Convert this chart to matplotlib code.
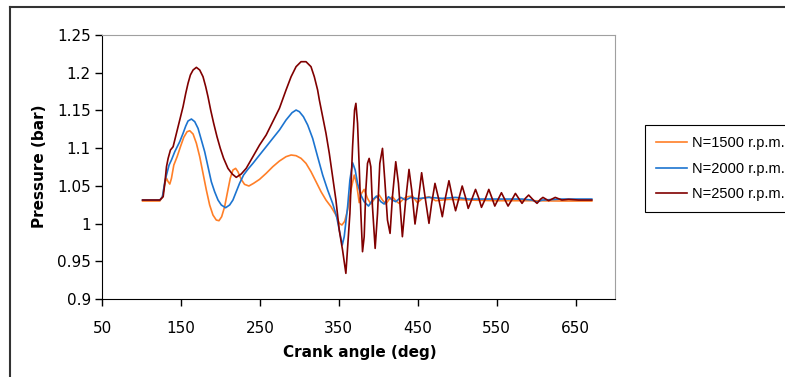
import matplotlib
matplotlib.use("Agg")
import matplotlib.pyplot as plt
from matplotlib.lines import Line2D

# ─── Data ─────────────────────────────────────────────────────────────────────
angle_1500 = [101.4, 123.3, 126.6, 129.6, 131.7, 133.8, 135.9, 138.0, 141.0, 145.2,
              149.4, 153.6, 157.8, 161.2, 165.4, 169.6, 173.8, 178.0, 182.2, 186.4,
              190.6, 194.8, 198.2, 201.6, 205.4, 208.7, 212.5, 215.9, 219.3, 222.2,
              226.4, 230.6, 236.1, 242.0, 249.6, 258.0, 266.4, 274.8, 283.2, 289.6,
              295.9, 302.2, 308.5, 314.8, 321.2, 327.5, 333.8, 340.1, 346.4, 350.6,
              354.0, 357.5, 361.2, 365.4, 369.6, 372.5, 375.9, 378.8, 382.2, 386.4,
              390.6, 395.7, 401.2, 405.4, 409.6, 413.8, 418.0, 422.2, 426.4, 432.7,
              436.9, 443.3, 449.6, 455.9, 464.3, 472.7, 489.6, 514.8, 548.5, 590.6,
              632.7, 670.6]
p_1500 = [1.0299, 1.0299, 1.0356, 1.0533, 1.0600, 1.0555, 1.0524, 1.0600, 1.0776, 1.0887,
          1.1019, 1.1143, 1.1218, 1.1231, 1.1187, 1.1064, 1.0887, 1.0666, 1.0445, 1.0246,
          1.0113, 1.0047, 1.0038, 1.0091, 1.0224, 1.0401, 1.0600, 1.0710, 1.0732, 1.0688,
          1.0586, 1.0520, 1.0498, 1.0533, 1.0586, 1.0666, 1.0754, 1.0829, 1.0887, 1.0909,
          1.0900, 1.0865, 1.0798, 1.0688, 1.0555, 1.0423, 1.0312, 1.0224, 1.0113, 1.0003,
          0.9981, 1.0030, 1.0179, 1.0445, 1.0643, 1.0533, 1.0277, 1.0400, 1.0453, 1.0334,
          1.0259, 1.0334, 1.0378, 1.0312, 1.0259, 1.0321, 1.0356, 1.0303, 1.0268, 1.0334,
          1.0356, 1.0365, 1.0277, 1.0334, 1.0356, 1.0303, 1.0321, 1.0312, 1.0303, 1.0303,
          1.0299, 1.0299]

angle_2000 = [101.4, 123.3, 126.6, 129.6, 131.7, 135.0, 138.0, 142.2, 148.5, 152.7,
              156.1, 159.0, 163.3, 167.5, 171.7, 175.9, 180.1, 184.3, 188.5, 192.7,
              197.0, 201.2, 206.6, 211.7, 215.9, 220.1, 224.3, 229.4, 234.8, 241.2,
              249.6, 258.0, 266.4, 274.8, 283.2, 290.8, 295.9, 300.1, 305.2, 310.6,
              316.9, 323.2, 329.6, 335.9, 342.2, 347.3, 351.5, 354.4, 356.9, 361.2,
              364.1, 367.5, 370.8, 373.8, 378.0, 382.2, 387.7, 392.7, 397.8, 403.3,
              407.5, 412.9, 418.0, 422.2, 428.5, 434.8, 441.2, 449.6, 464.3, 481.2,
              498.0, 514.8, 548.5, 582.2, 594.8, 601.2, 607.5, 632.7, 670.6]
p_2000 = [1.0312, 1.0312, 1.0356, 1.0555, 1.0644, 1.0776, 1.0843, 1.0953, 1.1086, 1.1196,
          1.1293, 1.1360, 1.1386, 1.1351, 1.1262, 1.1108, 1.0953, 1.0754, 1.0555, 1.0423,
          1.0312, 1.0246, 1.0210, 1.0246, 1.0312, 1.0423, 1.0533, 1.0644, 1.0719, 1.0798,
          1.0909, 1.1019, 1.1130, 1.1240, 1.1373, 1.1470, 1.1505, 1.1483, 1.1417, 1.1307,
          1.1130, 1.0887, 1.0644, 1.0445, 1.0268, 1.0091, 0.9870, 0.9715, 0.9826, 1.0224,
          1.0577, 1.0807, 1.0710, 1.0533, 1.0378, 1.0290, 1.0232, 1.0312, 1.0365, 1.0290,
          1.0259, 1.0356, 1.0312, 1.0290, 1.0347, 1.0312, 1.0347, 1.0330, 1.0347, 1.0334,
          1.0347, 1.0325, 1.0325, 1.0325, 1.0312, 1.0285, 1.0312, 1.0325, 1.0325]

angle_2500 = [101.4, 123.3, 127.5, 129.6, 131.7, 133.8, 136.7, 140.1, 144.3, 148.5,
              152.7, 156.1, 159.0, 162.0, 165.4, 169.6, 173.8, 178.0, 181.4, 184.3,
              187.7, 191.5, 195.7, 199.9, 204.1, 209.6, 215.0, 220.1, 226.4, 232.7,
              241.2, 249.6, 258.0, 266.4, 274.8, 283.2, 289.6, 295.9, 302.2, 308.5,
              314.8, 319.0, 323.2, 325.4, 329.6, 333.8, 338.0, 342.2, 346.4, 350.6,
              354.8, 359.0, 364.1, 367.5, 370.0, 371.7, 373.8, 375.9, 378.0, 380.1,
              382.2, 384.3, 386.4, 388.5, 390.6, 392.7, 396.1, 399.1, 402.0, 405.4,
              408.3, 411.7, 415.0, 418.0, 422.2, 425.6, 430.6, 434.8, 439.0, 442.4,
              446.6, 450.8, 455.0, 459.3, 464.3, 467.7, 471.9, 476.9, 481.2, 485.4,
              489.6, 493.8, 498.0, 502.2, 506.4, 510.6, 514.0, 519.0, 523.3, 527.5,
              530.8, 535.9, 540.1, 544.3, 547.7, 551.9, 556.1, 560.3, 564.5, 569.6,
              573.8, 578.0, 582.2, 586.4, 590.6, 595.7, 601.2, 605.4, 608.7, 615.9,
              624.3, 632.7, 641.2, 653.8, 670.6]
p_2500 = [1.0312, 1.0312, 1.0356, 1.0533, 1.0754, 1.0865, 1.0975, 1.1019, 1.1196, 1.1373,
          1.1550, 1.1726, 1.1859, 1.1970, 1.2036, 1.2071, 1.2036, 1.1947, 1.1815, 1.1682,
          1.1505, 1.1329, 1.1152, 1.0997, 1.0865, 1.0732, 1.0657, 1.0613, 1.0657, 1.0732,
          1.0887, 1.1041, 1.1174, 1.1351, 1.1528, 1.1771, 1.1947, 1.2080, 1.2146, 1.2146,
          1.2080, 1.1947, 1.1771, 1.1638, 1.1417, 1.1196, 1.0931, 1.0622, 1.0312, 0.9914,
          0.9649, 0.9340, 1.0135, 1.1019, 1.1505, 1.1594, 1.1328, 1.0754, 1.0135, 0.9627,
          0.9826, 1.0445, 1.0798, 1.0864, 1.0754, 1.0224, 0.9671, 1.0135, 1.0798, 1.0997,
          1.0577, 1.0047, 0.9870, 1.0356, 1.0820, 1.0533, 0.9826, 1.0312, 1.0718, 1.0445,
          0.9994, 1.0312, 1.0674, 1.0356, 1.0003, 1.0268, 1.0533, 1.0312, 1.0091, 1.0356,
          1.0568, 1.0356, 1.0170, 1.0334, 1.0498, 1.0347, 1.0201, 1.0334, 1.0453, 1.0334,
          1.0215, 1.0334, 1.0453, 1.0334, 1.0232, 1.0321, 1.0409, 1.0321, 1.0232, 1.0321,
          1.0400, 1.0334, 1.0268, 1.0334, 1.0378, 1.0321, 1.0268, 1.0321, 1.0347, 1.0303,
          1.0347, 1.0312, 1.0321, 1.0312, 1.0312]

series = [
    (angle_1500, p_1500, "N=1500 r.p.m.", "#ff7f27"),
    (angle_2000, p_2000, "N=2000 r.p.m.", "#1c74d0"),
    (angle_2500, p_2500, "N=2500 r.p.m.", "#800000"),
]

x_ticks = [50, 150, 250, 350, 450, 550, 650]
y_ticks = [0.9, 0.95, 1.0, 1.05, 1.1, 1.15, 1.2, 1.25]

# ─── Style ────────────────────────────────────────────────────────────────────
plt.rcParams.update({
    "font.family": ["DejaVu Sans"],
    "font.size": 11,
})

W, H = 785, 377
fig = plt.figure(figsize=(W / 100, H / 100), dpi=100)
ax = fig.add_axes([102 / W, 1 - 299 / H, 513 / W, 264 / H])

for xs, ys, label, c in series:
    ax.plot(xs, ys, color=c, lw=1.2, label=label)

ax.set_xlim(50, 700)
ax.set_ylim(0.9, 1.25)
ax.set_xticks(x_ticks)
ax.set_yticks(y_ticks)
ax.set_yticklabels([f"{v:g}" for v in y_ticks])
ax.tick_params(direction="out", length=5, width=1, labelsize=11)
ax.tick_params(axis="x", pad=10.5)
ax.tick_params(axis="y", pad=3)

for side in ("top", "right"):
    ax.spines[side].set_color("#a0a0a0")
for side in ("left", "bottom"):
    ax.spines[side].set_color("black")

fig.text(39 / W, 1 - 166 / H, "Pressure (bar)", rotation=90, ha="center",
         va="center", fontweight="bold", fontsize=11)
fig.text(360 / W, 1 - 353 / H, "Crank angle (deg)", ha="center",
         va="center", fontweight="bold", fontsize=11)

# outer chart frame (cut off at right and bottom)
frame_kw = dict(color="#333333", lw=1.5, transform=fig.transFigure)
fig.add_artist(Line2D([10 / W, 10 / W], [0, 1 - 7 / H], **frame_kw))
fig.add_artist(Line2D([10 / W, 1], [1 - 7 / H, 1 - 7 / H], **frame_kw))

# legend runs off the right edge like the reference; narrower face keeps text in
leg = fig.legend(loc="upper left", bbox_to_anchor=(645 / W, 1 - 125 / H),
                 borderaxespad=0, fancybox=False, framealpha=1,
                 edgecolor="black", handlelength=2.1, handletextpad=0.35,
                 labelspacing=0.8, borderpad=0.75,
                 prop={"family": "Liberation Sans", "size": 10.5})
leg.get_frame().set_linewidth(0.8)

fig.savefig("out.png", dpi=100)
